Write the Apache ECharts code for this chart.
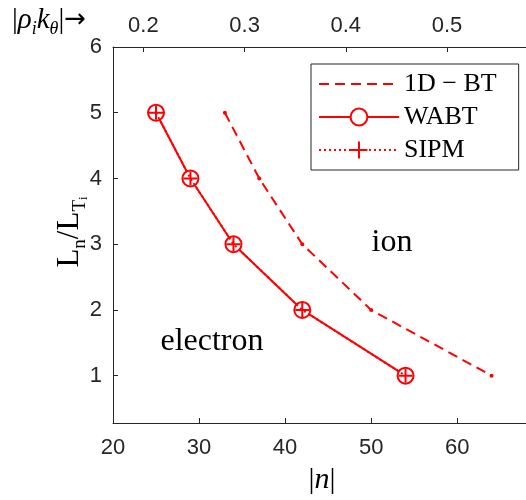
<!DOCTYPE html>
<html><head><meta charset="utf-8">
<script src="https://cdn.jsdelivr.net/npm/echarts@6/dist/echarts.min.js"></script>
<style>html,body{margin:0;padding:0;background:#fff}#c{width:526px;height:500px}</style>
</head><body><div id="c"></div>
<script>
const nBT = [33, 37, 42, 50, 64];
const yBT = [5, 4, 3, 2, 1];
const nWABT = [25, 29, 34, 42, 54];
const yWABT = [5, 4, 3, 2, 1];
const nSIPM = [25, 29, 34, 42, 54];
const ySIPM = [5, 4, 3, 2, 1];
const xTicks = [20, 30, 40, 50, 60];
const yTicks = [1, 2, 3, 4, 5, 6];
const topTicks = [0.2, 0.3, 0.4, 0.5];
const rhoPerN = 0.0085;
const xMin = 20, xMax = 68, yMin = 0.28, yMax = 6;

const ink = '#262626', red = '#ff0000';
const sans = 'Liberation Sans', serif = 'Liberation Serif';
const zip = (a, b) => a.map((v, i) => [v, b[i]]);

const chart = echarts.init(document.getElementById('c'));
const axBase = {
  axisLine: {show: true, lineStyle: {color: ink, width: 1}},
  axisTick: {show: true, inside: true, length: 5, lineStyle: {color: ink}},
  splitLine: {show: false},
  axisLabel: {color: ink, fontFamily: sans, fontSize: 22}
};
chart.setOption({
  animation: false,
  grid: {left: 113, right: 0, top: 47, bottom: 77},
  xAxis: [
    Object.assign({}, axBase, {type: 'value', position: 'bottom', min: xMin, max: xMax,
      axisLabel: Object.assign({}, axBase.axisLabel, {customValues: xTicks, margin: 14}),
      axisTick: Object.assign({}, axBase.axisTick, {customValues: xTicks})}),
    Object.assign({}, axBase, {type: 'value', position: 'top', min: xMin * rhoPerN, max: xMax * rhoPerN,
      axisLabel: Object.assign({}, axBase.axisLabel, {customValues: topTicks, margin: 10, formatter: v => v.toFixed(1)}),
      axisTick: Object.assign({}, axBase.axisTick, {customValues: topTicks})})
  ],
  yAxis: [
    Object.assign({}, axBase, {type: 'value', position: 'left', min: yMin, max: yMax,
      axisLabel: Object.assign({}, axBase.axisLabel, {customValues: yTicks, margin: 11}),
      axisTick: Object.assign({}, axBase.axisTick, {customValues: yTicks})})
  ],
  legend: {
    orient: 'vertical', left: 311, top: 64,
    backgroundColor: '#fff', borderColor: ink, borderWidth: 1, borderRadius: 0,
    padding: [7, 22, 7, 7], itemGap: 7, itemWidth: 80, itemHeight: 21,
    textStyle: {fontFamily: serif, fontSize: 26, lineHeight: 26, color: '#000'},
    data: [
      {name: '1D \u2212 BT', itemStyle: {color: 'rgba(0,0,0,0)', borderWidth: 0}},
      {name: 'WABT'},
      {name: 'SIPM'}
    ]
  },
  series: [
    {name: '1D \u2212 BT', type: 'line', data: zip(nBT, yBT), symbol: 'circle', symbolSize: 4,
      itemStyle: {color: red}, lineStyle: {color: red, width: 2, type: [10, 6]}, z: 3},
    {name: 'WABT', type: 'line', data: zip(nWABT, yWABT), symbol: 'emptyCircle', symbolSize: 16,
      itemStyle: {color: red, borderWidth: 2}, lineStyle: {color: red, width: 2}, z: 4},
    {name: 'SIPM', type: 'line', data: zip(nSIPM, ySIPM), symbol: 'path://M0,-1L0,1M-1,0L1,0', symbolSize: 14,
      itemStyle: {color: 'none', borderColor: red, borderWidth: 2}, lineStyle: {color: red, width: 2, type: [2, 3]}, z: 5}
  ],
  graphic: [
    {type: 'text', left: 12, top: 6, style: {
      rich: {
        a: {fontFamily: serif, fontSize: 29, fontStyle: 'italic', color: '#000', lineHeight: 36},
        b: {fontFamily: serif, fontSize: 29, color: '#000', lineHeight: 36},
        s: {fontFamily: serif, fontSize: 18, fontStyle: 'italic', color: '#000', lineHeight: 18, verticalAlign: 'bottom'},
        r: {fontFamily: 'DejaVu Sans', fontSize: 26, color: '#000', lineHeight: 36}
      },
      text: '{b||}{a|\u03c1}{s|i}{a|k}{s|\u03b8}{b||}{r|\u2192}'
    }},
    {type: 'text', x: 70, y: 232, rotation: Math.PI / 2, style: {
      align: 'center', verticalAlign: 'middle',
      rich: {
        a: {fontFamily: serif, fontSize: 31, color: '#000', lineHeight: 40},
        s: {fontFamily: serif, fontSize: 19, color: '#000', lineHeight: 19, verticalAlign: 'bottom'},
        ss: {fontFamily: serif, fontSize: 13, color: '#000', lineHeight: 8, verticalAlign: 'bottom'}
      },
      text: '{a|L}{s|n}{a|/L}{s|T}{ss|i}'
    }},
    {type: 'text', x: 322, y: 480, style: {
      align: 'center', verticalAlign: 'middle',
      rich: {
        b: {fontFamily: serif, fontSize: 30, color: '#000'},
        a: {fontFamily: serif, fontSize: 30, fontStyle: 'italic', color: '#000'}
      },
      text: '{b||}{a|n}{b||}'
    }},
    {type: 'text', x: 392, y: 243, style: {text: 'ion', align: 'center', verticalAlign: 'middle',
      fontFamily: serif, fontSize: 32, fill: '#000'}},
    {type: 'text', x: 212, y: 342, style: {text: 'electron', align: 'center', verticalAlign: 'middle',
      fontFamily: serif, fontSize: 32, fill: '#000'}}
  ]
});
</script></body></html>
